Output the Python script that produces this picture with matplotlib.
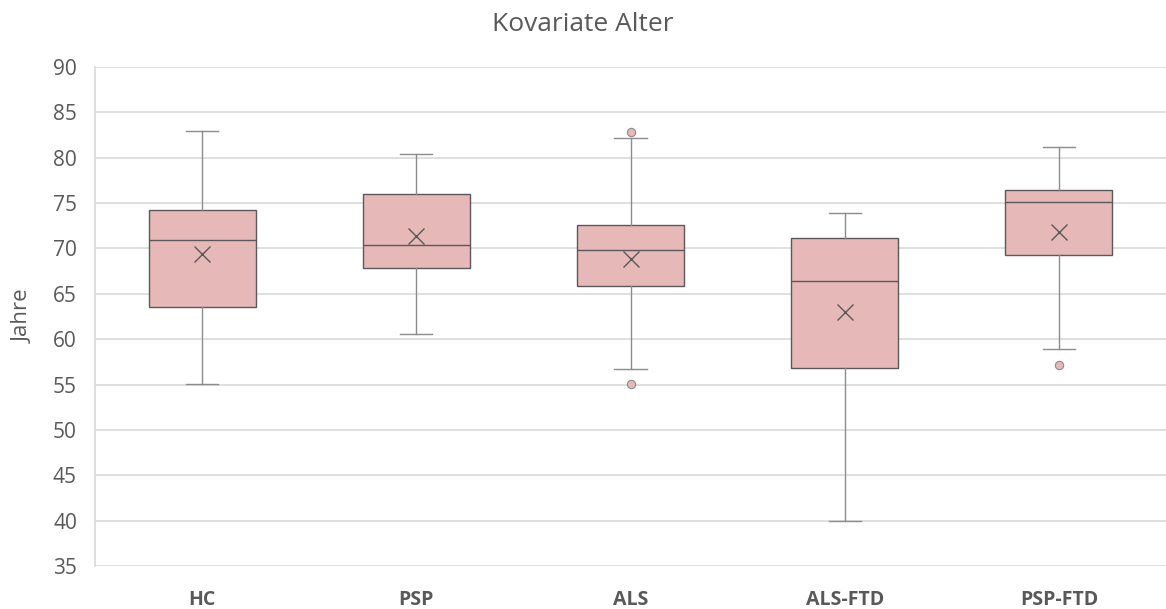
import matplotlib.pyplot as plt

# --- data: age (years) per group, box plot summary values ---
groups = ["HC", "PSP", "ALS", "ALS-FTD", "PSP-FTD"]
whisker_low = [55.1, 60.6, 56.7, 40.0, 58.9]
q1 = [63.6, 67.8, 65.9, 56.8, 69.3]
median = [70.9, 70.4, 69.8, 66.4, 75.1]
q3 = [74.2, 76.0, 72.6, 71.1, 76.4]
whisker_high = [82.9, 80.4, 82.2, 73.9, 81.2]
mean = [69.4, 71.4, 68.8, 63.0, 71.8]
outliers = [[], [], [82.8, 55.1], [], [57.1]]

FILL = "#E6B8B7"
EDGE = "#595959"
WHISKER = "#8C8C8C"
GRID = "#D9D9D9"
TEXT = "#595959"

plt.rcParams["font.family"] = ["Open Sans", "DejaVu Sans"]

fig = plt.figure(figsize=(11.66, 6.09), dpi=100)
ax = fig.add_axes([0.0815, 0.0706, 0.9185, 0.8194])

stats = []
for i, g in enumerate(groups):
    stats.append({
        "label": g,
        "whislo": whisker_low[i],
        "q1": q1[i],
        "med": median[i],
        "q3": q3[i],
        "whishi": whisker_high[i],
        "mean": mean[i],
        "fliers": outliers[i],
    })

ax.bxp(
    stats,
    positions=range(len(groups)),
    widths=0.5,
    patch_artist=True,
    showmeans=True,
    boxprops=dict(facecolor=FILL, edgecolor=EDGE, linewidth=1.0),
    medianprops=dict(color=EDGE, linewidth=1.0),
    whiskerprops=dict(color=WHISKER, linewidth=1.0),
    capprops=dict(color=WHISKER, linewidth=1.0),
    capwidths=0.15,
    meanprops=dict(marker="x", markersize=11, markeredgecolor=EDGE,
                   markeredgewidth=1.0),
    flierprops=dict(marker="o", markersize=6, markerfacecolor=FILL,
                    markeredgecolor=WHISKER, markeredgewidth=0.8),
    zorder=3,
)

ax.set_xlim(-0.5, len(groups) - 0.5)
ax.set_ylim(35, 90)
ax.set_yticks(range(35, 91, 5))
ax.yaxis.grid(True, color=GRID, linewidth=1.2, zorder=0)
ax.set_axisbelow(True)

for side in ["top", "right", "bottom"]:
    ax.spines[side].set_visible(False)
ax.spines["left"].set_color(GRID)
ax.spines["left"].set_linewidth(1.2)

ax.tick_params(axis="both", length=0)
ax.tick_params(axis="y", labelsize=15, labelcolor=TEXT, pad=13)
ax.tick_params(axis="x", labelsize=14, labelcolor=TEXT, pad=17)
for lbl in ax.get_xticklabels():
    lbl.set_fontweight("bold")

ax.set_ylabel("Jahre", fontsize=16, color=TEXT, labelpad=14)
fig.suptitle("Kovariate Alter", fontsize=19, color=TEXT, y=0.98)

fig.savefig("out.png", dpi=100, facecolor="white")
